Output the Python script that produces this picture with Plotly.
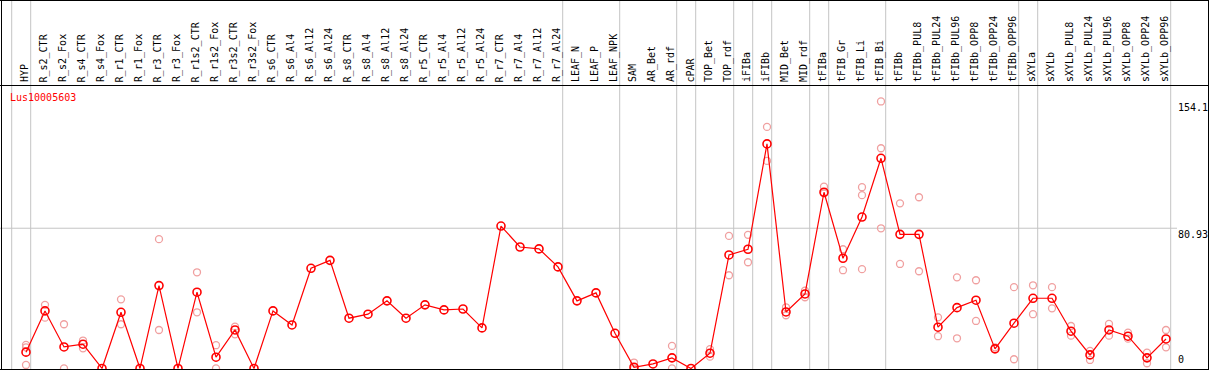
import plotly.graph_objects as go

# ---------------- data ----------------
categories = [
    "HYP", "R_s2_CTR", "R_s2_Fox", "R_s4_CTR", "R_s4_Fox", "R_r1_CTR", "R_r1_Fox",
    "R_r3_CTR", "R_r3_Fox", "R_r1s2_CTR", "R_r1s2_Fox", "R_r3s2_CTR", "R_r3s2_Fox",
    "R_s6_CTR", "R_s6_Al4", "R_s6_Al12", "R_s6_Al24", "R_s8_CTR", "R_s8_Al4",
    "R_s8_Al12", "R_s8_Al24", "R_r5_CTR", "R_r5_Al4", "R_r5_Al12", "R_r5_Al24",
    "R_r7_CTR", "R_r7_Al4", "R_r7_Al12", "R_r7_Al24", "LEAF_N", "LEAF_P", "LEAF_NPK",
    "SAM", "AR_Bet", "AR_rdf", "cPAR", "TOP_Bet", "TOP_rdf", "iFIBa", "iFIBb",
    "MID_Bet", "MID_rdf", "tFIBa", "tFIB_Gr", "tFIB_Li", "tFIB_Bi", "tFIBb",
    "tFIBb_PUL8", "tFIBb_PUL24", "tFIBb_PUL96", "tFIBb_OPP8", "tFIBb_OPP24",
    "tFIBb_OPP96", "sXYLa", "sXYLb", "sXYLb_PUL8", "sXYLb_PUL24", "sXYLb_PUL96",
    "sXYLb_OPP8", "sXYLb_OPP24", "sXYLb_OPP96",
]

mean_values = [
    9.4, 33.2, 12.4, 14.0, 0.0, 32.4, 0.0, 47.8, 0.0, 44.0, 6.5, 22.2, 0.0,
    33.2, 25.1, 57.8, 62.4, 29.0, 31.3, 39.0, 29.0, 36.7, 33.8, 34.3, 23.4,
    82.2, 70.1, 69.0, 58.6, 39.0, 43.6, 20.3,
    0.7, 2.6, 6.1, 0.0, 8.8, 65.5, 68.8, 129.6, 32.6, 43.0,
    101.7, 63.6, 87.4, 121.3, 77.4,
    77.4, 23.8, 35.1, 39.4, 11.3, 26.1,
    40.5, 40.5, 21.5, 7.8, 22.2, 18.6, 6.1, 17.0,
]

N = None
rep_1 = [
    13.6, 36.7, 25.5, 16.1, N, 39.9, N, 74.6, N, 55.5, 13.4, 24.1, N,
    N, N, N, N, N, N, N, N, N, N, N, N, N, N, N, N, N, N, N,
    3.4, N, 13.0, N, 11.1, 76.5, 77.1, 139.4, 35.3, 44.9,
    104.9, 68.8, 104.6, 154.1, 95.3,
    98.8, 29.5, 52.6, 50.9, 12.2, 46.9,
    48.0, 46.9, 24.5, 10.1, 25.7, 20.7, 9.1, 22.2,
]
rep_2 = [
    12.2, 29.3, 0.0, 11.6, N, 25.5, N, 22.2, N, 32.4, 0.0, 19.7, N,
    N, N, N, N, N, N, N, N, N, N, N, N, N, N, N, N, N, N, N,
    0.0, N, 0.0, N, 6.8, 53.8, 61.3, 119.8, 30.7, 41.1,
    101.1, 56.7, 100.0, 127.1, 60.3,
    56.1, 18.6, 17.4, 27.4, N, 5.3,
    31.3, 34.7, 18.9, 4.9, 18.9, 17.2, 3.0, 12.2,
]
rep_3 = [
    2.0, N, N, N, N, N, N, N, N, N, N, N, N,
    N, N, N, N, N, N, N, N, N, N, N, N, N, N, N, N, N, N, N,
    N, N, N, N, N, N, N, N, N, N,
    N, N, 57.3, 80.9, N,
    N, N, N, N, N, N,
    N, N, N, N, N, N, N, N,
]

separator_after = [-1, 0, 28, 31, 34, 35, 37, 38, 39, 41, 42, 45, 52, 53, 60]
gridline_value = 80.93
ytick_values = [154.1, 80.93, 0]
ytick_labels = ["154.1", "80.93", "0"]
title_text = "Lus10005603"

# ---------------- layout helpers ----------------
W, H = 1209, 370
TOP = 85
PLOT_H = H - TOP
X0_PX, STEP_PX = 26.0, 19.0
PX_PER_UNIT = 0.5772
Y_TOP = 163.6


def px_to_paper_x(px):
    return px / W


def px_to_paper_y(py):
    return (H - py) / PLOT_H


x_idx = list(range(len(categories)))
FONT = "DejaVu Sans Mono"

fig = go.Figure()

for reps in (rep_1, rep_2, rep_3):
    fig.add_trace(go.Scatter(
        x=x_idx, y=reps, mode="markers",
        marker=dict(symbol="circle-open", size=7, color="#f0a0a0",
                    line=dict(width=1.3, color="#f0a0a0")),
        hoverinfo="skip", showlegend=False, cliponaxis=True,
    ))

fig.add_trace(go.Scatter(
    x=x_idx, y=mean_values, mode="lines+markers",
    line=dict(color="#ff0000", width=1.2),
    marker=dict(symbol="circle-open", size=8, color="#ff0000",
                line=dict(width=1.6, color="#ff0000")),
    showlegend=False, cliponaxis=True,
))

shapes = []
# vertical separators (full height, through header)
for k in separator_after:
    xv = k + 4.7 / STEP_PX
    shapes.append(dict(type="line", xref="x", yref="paper", x0=xv, x1=xv,
                       y0=0, y1=px_to_paper_y(0), line=dict(color="#c4c4c4", width=1),
                       layer="below"))
# horizontal gridline
shapes.append(dict(type="line", xref="paper", yref="y", x0=0, x1=px_to_paper_x(1177),
                   y0=gridline_value, y1=gridline_value,
                   line=dict(color="#c4c4c4", width=1), layer="below"))
# borders
for (xa, ya, xb, yb, w) in [
    (0, 0.5, W, 0.5, 1),          # top
    (0, 85.5, W, 85.5, 1),        # header separator
    (0, 369.5, W, 369.5, 1.2),    # bottom
    (1.5, 0, 1.5, H, 1),          # left
    (1208.5, 0, 1208.5, H, 1),    # right
]:
    shapes.append(dict(type="line", xref="paper", yref="paper",
                       x0=px_to_paper_x(xa), x1=px_to_paper_x(xb),
                       y0=px_to_paper_y(ya), y1=px_to_paper_y(yb),
                       line=dict(color="black", width=w)))

annotations = []
for k, lab in enumerate(categories):
    annotations.append(dict(
        x=k, xref="x", xshift=-1.5, y=px_to_paper_y(83.5), yref="paper",
        text=lab, textangle=-90, showarrow=False, xanchor="center", yanchor="bottom",
        font=dict(family=FONT, size=10, color="black"), borderpad=0,
    ))

for v, t in zip(ytick_values, ytick_labels):
    annotations.append(dict(
        x=px_to_paper_x(1177), xref="paper", y=v, yref="y", text=t, showarrow=False,
        xanchor="left", yanchor=("bottom" if v == 0 else "top"),
        font=dict(family=FONT, size=10, color="black"), borderpad=0,
        yshift=(2 if v == 0 else 0),
    ))

annotations.append(dict(
    x=px_to_paper_x(8.5), xref="paper", y=px_to_paper_y(97), yref="paper",
    text=title_text, showarrow=False, xanchor="left", yanchor="middle",
    font=dict(family=FONT, size=10, color="#ff0000"), borderpad=0,
))

x_min = -X0_PX / STEP_PX
x_max = (W - X0_PX) / STEP_PX
y_min = Y_TOP - PLOT_H * PX_PER_UNIT

fig.update_layout(
    width=W, height=H,
    margin=dict(l=0, r=0, t=TOP, b=0, pad=0),
    paper_bgcolor="white", plot_bgcolor="white",
    xaxis=dict(range=[x_min, x_max], showgrid=False, zeroline=False,
               showticklabels=False, showline=False, fixedrange=True),
    yaxis=dict(range=[y_min, Y_TOP], showgrid=False, zeroline=False,
               showticklabels=False, showline=False, fixedrange=True),
    shapes=shapes, annotations=annotations, showlegend=False,
)

fig.write_html(
    "out.html",
    config={"displayModeBar": False},
    post_script="document.body.style.margin='0';document.body.style.overflow='hidden';",
)
